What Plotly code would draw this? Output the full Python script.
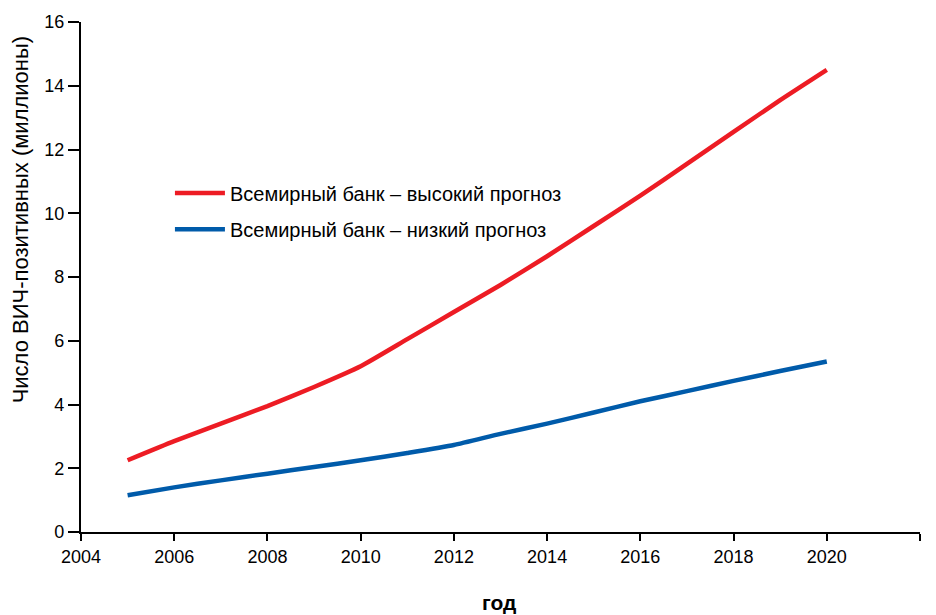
import plotly.graph_objects as go

# HIV-positive population projections (millions), World Bank scenarios
years = [2005, 2006, 2007, 2008, 2009, 2010, 2011, 2012,
         2013, 2014, 2015, 2016, 2017, 2018, 2019, 2020]
high_forecast = [2.25, 2.85, 3.4, 3.95, 4.55, 5.2, 6.05, 6.9,
                 7.75, 8.65, 9.6, 10.55, 11.55, 12.55, 13.55, 14.5]
low_forecast = [1.15, 1.4, 1.62, 1.83, 2.04, 2.25, 2.48, 2.73,
                3.08, 3.4, 3.75, 4.1, 4.42, 4.74, 5.05, 5.35]

x_ticks = list(range(2004, 2023, 2))
y_ticks = list(range(0, 17, 2))

RED = "#ED1C24"
BLUE = "#005BAA"
FONT = "Liberation Sans, Arial, sans-serif"

fig = go.Figure()
fig.add_trace(go.Scatter(
    x=years, y=high_forecast, mode="lines",
    name="Всемирный банк – высокий прогноз",
    line=dict(color=RED, width=4.5, shape="spline", smoothing=0.5),
    showlegend=True, legend="legend",
))
fig.add_trace(go.Scatter(
    x=years, y=low_forecast, mode="lines",
    name="Всемирный банк – низкий прогноз",
    line=dict(color=BLUE, width=4.5, shape="spline", smoothing=0.5),
    showlegend=True, legend="legend2",
))

axis_common = dict(
    showgrid=False, zeroline=False, showline=True,
    linecolor="black", linewidth=2.2,
    ticks="outside", tickwidth=1.5, tickcolor="black",
    tickfont=dict(family=FONT, size=18, color="black"),
)

legend_common = dict(
    x=0.106, xanchor="left", yanchor="top",
    bgcolor="rgba(0,0,0,0)", itemwidth=50,
    font=dict(family=FONT, size=20, color="black"),
)

fig.update_layout(
    width=936, height=615,
    margin=dict(l=81, r=16, t=15, b=83),
    paper_bgcolor="white", plot_bgcolor="white",
    font=dict(family=FONT, color="black"),
    showlegend=True,
    xaxis=dict(range=[2004, 2022], tickvals=x_ticks, ticklen=7, **axis_common),
    yaxis=dict(range=[0, 16], tickvals=y_ticks, ticklen=11, **axis_common),
    legend=dict(y=0.703, **legend_common),
    legend2=dict(y=0.632, **legend_common),
    annotations=[
        dict(text="Число ВИЧ-позитивных (миллионы)", textangle=-90,
             xref="paper", yref="paper", x=-0.0727, y=0.613,
             xanchor="center", yanchor="middle", showarrow=False,
             font=dict(family=FONT, size=22, color="black")),
        dict(text="<b>год</b>",
             xref="paper", yref="paper", x=0.498, y=-0.138,
             xanchor="center", yanchor="middle", showarrow=False,
             font=dict(family=FONT, size=21, color="black")),
    ],
)

fig.write_html("out.html")
